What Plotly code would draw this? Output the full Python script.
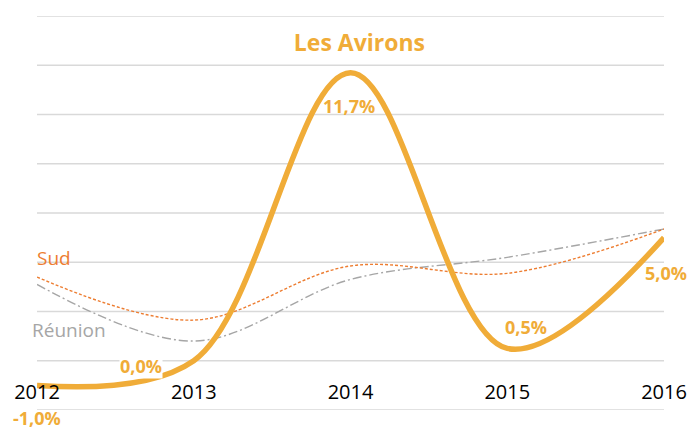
import plotly.graph_objects as go

# Annual change (%) by year
years = [2012, 2013, 2014, 2015, 2016]
year_labels = ["2012", "2013", "2014", "2015", "2016"]
avirons = [-1.0, 0.0, 11.7, 0.5, 5.0]
sud = [3.4, 1.65, 3.85, 3.55, 5.35]
reunion = [3.1, 0.8, 3.3, 4.2, 5.35]
grid_vals = [-2, 0, 2, 4, 6, 8, 10, 12, 14]

GOLD = "#F0AC38"
ORANGE = "#ED7D31"
GREY = "#A6A6A6"
FONT = "Open Sans"

W, H = 699, 429
M_L, M_R, M_T, M_B = 37, 28, 16, 19

fig = go.Figure()

fig.add_trace(go.Scatter(
    x=years, y=reunion, mode="lines", name="Réunion",
    line=dict(color=GREY, width=1.4, dash="9px,3px,2px,3px", shape="spline", smoothing=1),
    hoverinfo="skip",
))
fig.add_trace(go.Scatter(
    x=years, y=sud, mode="lines", name="Sud",
    line=dict(color=ORANGE, width=1.4, dash="3px,2px", shape="spline", smoothing=1),
    hoverinfo="skip",
))
fig.add_trace(go.Scatter(
    x=years, y=avirons, mode="lines", name="Les Avirons",
    line=dict(color=GOLD, width=5.5, shape="spline", smoothing=1),
    hoverinfo="skip",
))

# Horizontal gridlines, including the ones on the plot edges
for g in grid_vals:
    fig.add_shape(type="line", xref="paper", yref="y", x0=0, x1=1, y0=g, y1=g,
                  line=dict(color="#D9D9D9", width=1.5), layer="below")

# Value labels for the main series (pixel offsets from each point)
label_shift = [(0, -33), (-53, -5), (-2, -33), (19, 21), (2, -35)]
for i, (yr, v) in enumerate(zip(years, avirons)):
    dx, dy = label_shift[i]
    txt = f"{v:.1f}".replace(".", ",") + "%"
    fig.add_annotation(
        x=yr, y=v, text=f"<b>{txt}</b>", showarrow=False,
        xshift=dx, yshift=dy,
        font=dict(family=FONT, size=18, color=GOLD),
        bgcolor="white" if v == 0 else "rgba(0,0,0,0)",
        borderpad=0,
    )

# Series name labels beside the first point
fig.add_annotation(x=years[0], y=sud[0], text="Sud", showarrow=False,
                   xshift=17, yshift=19,
                   font=dict(family=FONT, size=19, color=ORANGE))
fig.add_annotation(x=years[0], y=reunion[0], text="Réunion", showarrow=False,
                   xshift=32, yshift=-46,
                   font=dict(family=FONT, size=19, color=GREY))

fig.update_layout(
    width=W, height=H,
    margin=dict(l=M_L, r=M_R, t=M_T, b=M_B, pad=0),
    plot_bgcolor="white", paper_bgcolor="white",
    showlegend=False,
    title=dict(
        text="<b>Les Avirons</b>",
        x=359.5 / W, xanchor="center", xref="paper",
        y=1 - 43 / H, yanchor="middle", yref="container",
        font=dict(family=FONT, size=23, color=GOLD),
    ),
    xaxis=dict(
        range=[2012, 2016], tickvals=years, ticktext=year_labels,
        showgrid=False, zeroline=False, showline=False, ticks="",
        anchor="free", position=0.082,
        tickfont=dict(family=FONT, size=20, color="black"),
        fixedrange=True,
    ),
    yaxis=dict(
        range=[-2, 14], showgrid=False,
        zeroline=False, showticklabels=False, ticks="",
        fixedrange=True,
    ),
)

fig.write_html("out.html")
